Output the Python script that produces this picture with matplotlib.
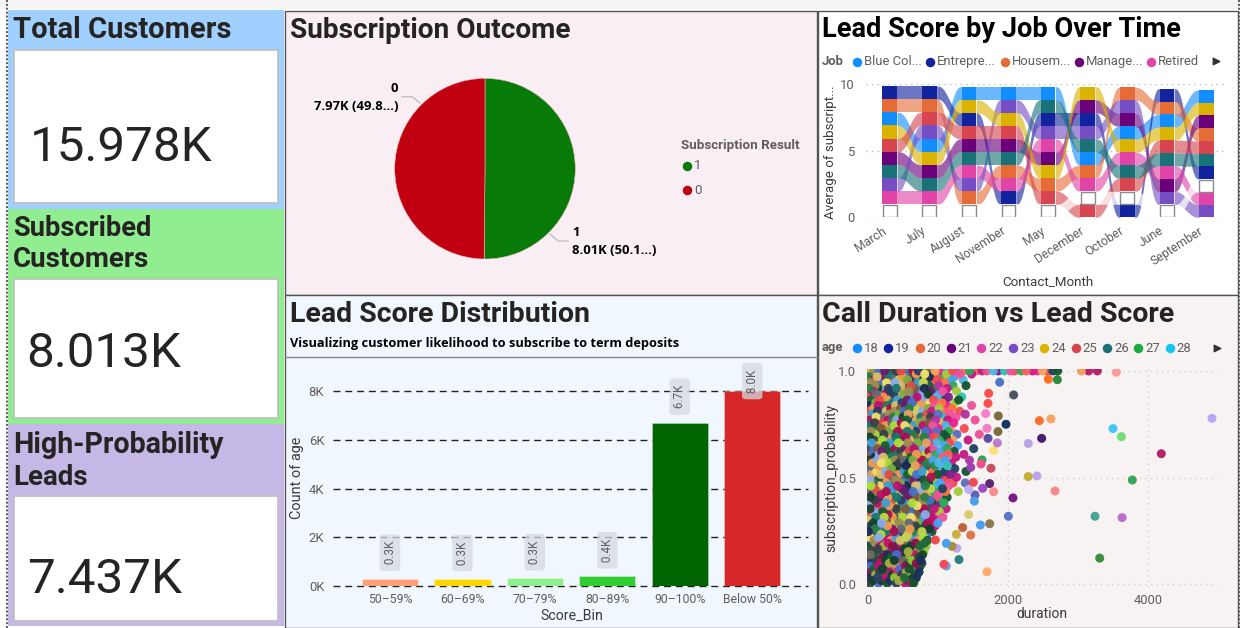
import numpy as np
import matplotlib
matplotlib.use("Agg")
import matplotlib.pyplot as plt
from matplotlib.patches import Rectangle
from matplotlib.transforms import ScaledTranslation

plt.rcParams['font.family'] = ['Roboto', 'DejaVu Sans']

W, H = 1240, 628
TITLE = '#252423'
GREY = '#605E5C'
AXT = '#3A3A3A'

# ---------------- data ----------------
kpi_titles = ['Total Customers', 'Subscribed\nCustomers', 'High-Probability\nLeads']
kpi_values = ['15.978K', '8.013K', '7.437K']

pie_values = [8013, 7965]
pie_colors = ['#087A08', '#C00010']

bins = ['50–59%', '60–69%', '70–79%', '80–89%', '90–100%', 'Below 50%']
bin_counts = [300, 290, 320, 400, 6700, 8000]
bin_labels = ['0.3K', '0.3K', '0.3K', '0.4K', '6.7K', '8.0K']
bin_colors = ['#FFA07A', '#FFD700', '#90EE90', '#32CD32', '#006400', '#D62828']

months = ['March', 'July', 'August', 'November', 'May', 'December', 'October', 'June', 'September']
month_avg = [0.985, 0.985, 0.98, 0.98, 0.98, 0.98, 0.975, 0.965, 0.955]
job_colors = {'blue': '#118DFF', 'entre': '#12239E', 'house': '#E66C37', 'manage': '#6B007B',
              'retired': '#E044A7', 'self': '#744EC2', 'serv': '#D9B300', 'student': '#D64550',
              'tech': '#197278', 'unemp': '#FFFFFF'}
# stack order in each month, top to bottom
month_order = [
    ['entre', 'house', 'blue', 'serv', 'student', 'manage', 'tech', 'self', 'retired', 'unemp'],
    ['entre', 'house', 'student', 'self', 'blue', 'serv', 'manage', 'tech', 'retired', 'unemp'],
    ['blue', 'serv', 'entre', 'student', 'manage', 'tech', 'retired', 'self', 'house', 'unemp'],
    ['blue', 'self', 'serv', 'student', 'manage', 'tech', 'house', 'retired', 'entre', 'unemp'],
    ['blue', 'tech', 'entre', 'self', 'retired', 'manage', 'serv', 'house', 'student', 'unemp'],
    ['serv', 'manage', 'entre', 'self', 'tech', 'blue', 'house', 'retired', 'unemp', 'student'],
    ['house', 'self', 'manage', 'blue', 'serv', 'retired', 'tech', 'student', 'unemp', 'entre'],
    ['entre', 'house', 'blue', 'serv', 'student', 'tech', 'retired', 'manage', 'self', 'unemp'],
    ['blue', 'serv', 'manage', 'house', 'student', 'tech', 'entre', 'unemp', 'retired', 'self'],
]
job_legend = [('Blue Col...', 'blue'), ('Entrepre...', 'entre'), ('Housem...', 'house'),
              ('Manage...', 'manage'), ('Retired', 'retired')]

age_legend = ['18', '19', '20', '21', '22', '23', '24', '25', '26', '27', '28']
age_colors = ['#118DFF', '#12239E', '#E66C37', '#6B007B', '#E044A7', '#744EC2', '#D9B300',
              '#D64550', '#197278', '#1AAB40', '#15C6F4']

# dense part of the scatter, estimated row by row: probability -> durations
dense_rows = {
    1.000: [20,90,160,240,310,395,470,560,640,720,810,890,960,1050,1130,1210,1290,1370,1450,1540,1630,1700,1790,1860,1950,2040,2090,2190,2260,2350,2420,2490,2560,2640,2710],
    .985: [60,170,280,430,520,690,810,940,1120,1310,1480],
    .972: [10,130,250,350,495,590,760,880,1040,1230],
    .958: [85,205,310,440,565,650,830,990,1180,1360],
    .945: [35,150,265,385,530,715,790,925,1090],
    .931: [100,225,340,470,610,745,870,1010,1215,1400],
    .918: [15,140,290,405,545,660,805,955,1130],
    .905: [70,195,320,490,580,730,900,1070,1265],
    .891: [5,120,245,370,510,640,775,860,1025],
    .878: [90,215,335,455,600,700,845,980,1150,1340],
    .864: [45,160,300,420,560,680,820,935,1100,1295],
    .851: [110,235,350,485,625,760,885,1055,1240],
    .838: [25,145,275,395,535,655,790,950,1125,1480],
    .824: [80,200,325,465,590,725,865,1015,1200],
    .811: [10,135,260,380,515,670,780,910,1085,1310],
    .797: [60,185,305,440,575,705,840,1000,1170,1390],
    .784: [115,240,360,500,620,755,895,1060,1260],
    .770: [30,155,285,410,550,690,815,965,1140,1530],
    .757: [95,210,345,475,600,735,875,1035,1225],
    .744: [5,125,255,375,525,645,785,925,1110],
    .730: [70,190,315,450,585,715,850,1005,1185,1375],
    .717: [40,165,295,425,560,680,820,975,1150],
    .703: [105,230,355,490,630,750,905,1080,1270,1590],
    .690: [20,145,270,400,540,665,800,950,1120],
    .676: [85,205,330,460,595,725,860,1020,1210,1430],
    .663: [50,175,310,435,570,700,835,985,1165],
    .650: [120,245,365,505,615,770,915,1095,1280],
    .636: [15,135,280,390,530,655,795,945,1130,1510],
    .623: [75,195,320,470,590,730,870,1040,1230],
    .609: [35,160,290,415,555,690,825,970,1145,1370],
    .596: [100,220,340,480,610,745,890,1075,1255],
    .582: [10,130,260,385,520,640,780,930,1105,1450],
    .569: [65,190,305,445,580,710,855,1010,1190],
    .556: [30,150,275,405,545,675,810,960,1135],
    .542: [90,215,335,465,600,735,880,1055,1240],
    .529: [5,125,250,375,515,635,775,925,1100,1400],
    .515: [55,180,300,430,565,695,840,995,1175],
    .502: [110,235,355,495,620,760,900,1080,1265],
    .488: [25,145,270,395,535,660,800,950,1120],
    .475: [80,200,325,460,590,725,865,1030,1215,1390],
    .462: [40,165,285,420,550,680,820,975,1150],
    .448: [95,225,345,485,610,750,895,1065],
    .435: [15,135,260,380,525,645,790,940,1110,1290],
    .421: [70,185,315,450,580,715,850,1005],
    .408: [35,155,280,410,545,670,810,960,1130],
    .394: [100,220,340,475,605,740,885,1050],
    .381: [5,125,255,370,510,630,770,915,1085],
    .368: [60,180,300,435,570,700,835,990],
    .354: [30,150,270,400,535,660,800,945,1115],
    .341: [90,210,330,465,595,725,865,1020],
    .327: [45,165,285,420,555,685,820,970],
    .314: [110,230,350,490,615,755,900,1070],
    .301: [15,135,265,385,525,640,785,930],
    .287: [75,195,315,445,585,710,850,1000],
    .274: [35,160,280,410,550,675,815,960],
    .260: [100,220,345,475,600,740,880],
    .247: [5,130,250,375,515,635,770,915],
    .233: [65,185,305,440,570,705,840],
    .220: [25,150,270,400,540,660,795],
    .206: [85,210,330,460,590,720,850],
    .193: [45,165,290,420,555,680,805],
    .179: [105,225,350,480,610,740,830],
    .166: [15,140,265,385,520,645,775],
    .153: [70,190,315,445,575,700,800],
    .139: [35,160,280,410,545,670,780],
    .126: [95,215,340,470,600,725],
    .112: [5,125,250,375,510,630,755],
    .099: [60,180,305,435,565,690,770],
    .085: [25,150,270,400,535,655,745],
    .072: [85,205,325,455,585,710],
    .058: [40,165,285,415,550,670,730],
    .045: [110,230,350,480,605,700],
    .031: [15,135,260,380,520,640,690],
    .018: [70,190,310,440,570,660],
    .005: [30,150,275,405,530,620,650],
}
# age group of each dense point, read as a repeating list of colour slots
age_slots = [3,17,8,22,0,13,19,5,11,2,23,7,15,9,20,1,14,6,21,12,4,18,10,16,
             7,0,19,3,12,22,9,15,1,17,5,23,11,20,2,8,14,21,6,13,18,4,16,10,
             22,5,14,0,9,18,3,20,11,7,16,1,23,13,6,19,2,10,17,8,21,15,4,12,
             1,12,6,17,23,3,10,19,14,0,8,21,5,16,9,2,20,13,7,18,11,22,4,15,0]
dense_bright = ['#F0509A', '#F04C50', '#4AA0F0', '#2FA85A', '#C2187F', '#14532D', '#FF7043', '#2EC4B6', '#B0339E',
                '#E91E8C', '#4DB6E5', '#1E8E50', '#FF5A5F', '#A8C93A', '#5C6BC0', '#F8A35C', '#7B1E8A', '#1D4060']
dense_mixed = ['#1D5C34', '#C2D64A', '#2B3A67', '#E8A25C', '#C0106E', '#5E6A78', '#A8E03A', '#7A5C3C',
               '#4672C8', '#173F2A', '#D8C06A', '#A80F4F', '#3E9ED0', '#384048', '#F09A50', '#8CAAE8',
               '#2A7D46', '#9E8E50', '#1B2A55', '#E04C44', '#18776E', '#F2E06E', '#6B1C6E', '#78B040']
dense_dark = ['#14532D', '#1C2F5C', '#8B0F4B', '#3A4048', '#1E6B38', '#C0106E', '#0F4030', '#A8B040',
              '#2F3F66', '#6E6A60', '#176034', '#D02860', '#10442A', '#C89060', '#4A6AD0', '#8AC838']

# scattered outliers: duration, probability, colour
sparse_dur = [4914,4190,3776,3620,3500,3310,3630,3243,2671,2414,2290,2290,2481,2614,2448,1971,2081,1881,
              2705,2576,3548,3276,3152,3048,2071,2005,1738,1605,1467,1352,1438,1262,1300,1119,1086,1700,
              1267,1200,1119,962,1738,1795,1638,1529,1519,1438,1505,1757,1629,1467,1614,1795,1848,1714,
              1857,1700,1862,1681,1724,1714]
sparse_prob = [.778,.612,.489,.692,.73,.123,.3125,.319,.4375,.508,.505,.66,.684,.775,.767,.75,.8875,.947,
               .959,.961,.994,1.0,1.0,1.0,.405,.319,.284,.278,.231,.266,.327,.234,.116,.086,.094,.059,
               .169,.178,.192,.208,.472,.434,.45,.419,.39,.444,.478,.544,.583,.548,.564,.627,.6625,.684,
               .716,.731,.789,.80,.895,.848]
sparse_col = ['#B9A6F5','#B8226B','#3AA657','#74DB7E','#45C6F5','#3B8F3E','#BC6FCB','#45A696','#F48C8C',
              '#BDA6EE','#C7B038','#B8A5E8','#4B1D6E','#F7A468','#FF6F2D','#163561','#4D5565','#4A78C4',
              '#2E8B3E','#FF7020','#FF9A9A','#B8226B','#B8226B','#F0A060','#7B1E8A','#5A78C8','#8C7A4F',
              '#4A9CF5','#E0764E','#C0633C','#D9CC70','#C9B040','#2E7F80','#6AA5EE','#F44C5A','#FFAC70',
              '#C0A8F0','#A98F3A','#4AA0F0','#F04C50','#5C2A70','#F98F90','#9B4FC0','#6262B0','#4D9FE8',
              '#C0B0F0','#F04C50','#C9505F','#3A9F50','#A040B0','#F04C90','#FFE270','#BC7FD0','#5A4FA0',
              '#7C7040','#F57FC0','#7D6A40','#FA7FD0','#FF5050','#FF5050']

# ---------------- helpers ----------------
fig = plt.figure(figsize=(W / 100, H / 100), dpi=100, facecolor='white')
bg = fig.add_axes([0, 0, 1, 1])
bg.set_xlim(0, W)
bg.set_ylim(H, 0)
bg.axis('off')


def axes_px(l, t, r, b):
    a = fig.add_axes([l / W, 1 - b / H, (r - l) / W, (b - t) / H])
    a.patch.set_alpha(0)
    return a


def pt(px):
    return px * 0.72


def box(l, t, r, b, fc, ec='none', lw=0, z=1):
    bg.add_patch(Rectangle((l, t), r - l, b - t, fc=fc, ec=ec, lw=lw, zorder=z))


def txt(x, y, s, size, color=TITLE, weight='normal', ha='left', va='center', rot=0, **kw):
    bg.text(x, y, s, fontsize=size, color=color, fontweight=weight, ha=ha, va=va, rotation=rot, zorder=8, **kw)


def dot(x, y, c, d=9.5):
    bg.scatter([x], [y], s=pt(d) ** 2, c=c, linewidths=0, zorder=8)


# ---------------- page ----------------
box(0, 0, W, 9, '#F4F4F4')
bg.plot([7, 7], [0, H], color='#555555', lw=1.4, ls=(0, (1, 1)), zorder=9)
bg.plot([1238.5, 1238.5], [0, H], color='#555555', lw=1.4, ls=(0, (1, 1)), zorder=9)

# KPI cards
kpi_boxes = [(10, 209, '#A0D0FF', 50, 203, 161, 30), (209, 424, '#90EE90', 279, 418, 367, 26.5),
             (424, 626, '#C5B8E6', 496, 621, 593, 27)]
title_base = [[38], [236, 267], [453, 485]]
title_size = [[21], [19.6, 20], [20.6, 20]]
for (t, b, col, it, ib, base, vx), ttl, val, tb, ts in zip(kpi_boxes, kpi_titles, kpi_values, title_base, title_size):
    box(8, t, 284, b, col)
    box(14, it, 277.5, ib, 'white', ec='#BEBEBE', lw=1.2, z=2)
    for line, y, sz in zip(ttl.split('\n'), tb, ts):
        txt(13, y, line, sz, weight='bold', va='baseline')
    txt(vx, base, val, 35.6, va='baseline', color='#252423')

# panels
panel_edge = '#555555'
box(285, 11, 817, 295, '#F8EEF4', ec=panel_edge, lw=1)
box(285, 295, 817, 627.5, '#F1F7FF', ec=panel_edge, lw=1)
box(818, 11, 1238, 295, 'white', ec=panel_edge, lw=1)
box(818, 295, 1238, 627.5, '#F7F3F3', ec=panel_edge, lw=1)

# ---------------- pie ----------------
txt(290, 37.5, 'Subscription Outcome', 20.2, weight='bold', va='baseline')
R = 90.3
pa = axes_px(485 - R, 168.7 - R, 485 + R, 168.7 + R)
pa.pie(pie_values, colors=pie_colors, startangle=90, counterclock=False, radius=1,
       wedgeprops=dict(edgecolor='#E8B8B8', linewidth=0.4))
pa.set_xlim(-1, 1)
pa.set_ylim(-1, 1)
bg.plot([402, 412, 420], [96.7, 96.7, 103], color='#BDBDBD', lw=0.9, zorder=5)
bg.plot([550, 558, 568], [234, 241, 241], color='#BDBDBD', lw=0.9, zorder=5)
lbl = ['Open Sans', 'DejaVu Sans']
txt(398, 89, '0', 9.4, color='black', weight='bold', ha='right', family=lbl)
txt(398, 106.7, '7.97K (49.8...)', 9.4, color='black', weight='bold', ha='right', family=lbl)
txt(572, 232.7, '1', 9.4, color='black', weight='bold', family=lbl)
txt(572, 250, '8.01K (50.1...)', 9.4, color='black', weight='bold', family=lbl)
txt(681, 145, 'Subscription Result', 9.6, color=GREY, weight='bold')
for y, c, s in [(165.7, pie_colors[0], '1'), (190, pie_colors[1], '0')]:
    dot(687, y, c)
    txt(694, y, s, 9.5, color=GREY)

# ---------------- bars ----------------
txt(290, 322.5, 'Lead Score Distribution', 20.5, weight='bold', va='baseline')
txt(290, 343.3, 'Visualizing customer likelihood to subscribe to term deposits', 9.2, color='black',
    weight='bold', family=lbl)
bg.plot([285, 817], [357.3, 357.3], color='#8A8A8A', lw=1, zorder=3)
ba = axes_px(332.5, 391, 808, 586)
ba.set_xlim(-0.794, 5.77)
ba.set_ylim(0, 8000)
ba.bar(range(len(bins)), bin_counts, width=0.775, color=bin_colors, zorder=3, edgecolor='#FFFFFF55', linewidth=0.6)
ba.set_yticks([0, 2000, 4000, 6000, 8000], ['0K', '2K', '4K', '6K', '8K'])
ba.set_xticks(range(len(bins)), bins)
ba.grid(axis='y', color='#222222', ls=(0, (5, 3.5)), lw=1, zorder=1)
ba.grid(axis='x', visible=False)
for g in ba.get_ygridlines():
    g.set_clip_on(False)
ba.tick_params(length=0, labelcolor=GREY, labelsize=9.4, pad=6)
ba.tick_params(axis='x', labelsize=8.8, pad=5)
for s in ba.spines.values():
    s.set_visible(False)
label_offset = [18.7, 18.7, 18.7, 18.7, 18.7, 7.2]
for i, (v, l, o) in enumerate(zip(bin_counts, bin_labels, label_offset)):
    ba.annotate(' ' + l + ' ', (i, v), xytext=(0, o), textcoords='offset points', rotation=90,
                ha='center', va='center', fontsize=8.4, color=GREY, zorder=6, annotation_clip=False,
                bbox=dict(boxstyle='round,pad=0.32', fc='#D5DAE2', ec='none', alpha=0.75))
txt(571.7, 615.7, 'Score_Bin', 10.2, color=AXT, ha='center')
txt(297.5, 477.7, 'Count of age', 10.4, color=AXT, ha='center', rot=90)

# ---------------- ribbon ----------------
txt(822, 37, 'Lead Score by Job Over Time', 19.6, color='black', weight='bold', va='baseline')
txt(822, 61.5, 'Job', 9.4, color=GREY, weight='bold')
for (name, key), x in zip(job_legend, [857, 929.7, 1004.7, 1078.7, 1151]):
    dot(x, 61.5, job_colors[key])
    txt(x + 7, 61.5, name, 9.4, color=GREY)
bg.scatter([1216], [61], marker='>', s=22, c='#333333', zorder=8)

ra = axes_px(866, 84, 1227, 217.3)
ra.set_xlim(-0.6, 8.52)
ra.set_ylim(0, 10)
half = 0.185
positions = []
for order, h in zip(month_order, month_avg):
    tops = {}
    y = h * len(order)
    for key in order:
        tops[key] = (y - h, y)
        y -= h
    positions.append(tops)
jobs_drawn = [k for k in job_colors if k != 'unemp'] + ['unemp']
u = np.linspace(0, 1, 60)
ease = u ** 3 * (u * (u * 6 - 15) + 10)
for key in jobs_drawn:
    for i in range(len(months) - 1):
        lo0, hi0 = positions[i][key]
        lo1, hi1 = positions[i + 1][key]
        xs = i + half + u * (1 - 2 * half)
        ra.fill_between(xs, lo0 + (lo1 - lo0) * ease, hi0 + (hi1 - hi0) * ease, color=job_colors[key],
                        alpha=0.72 if key == 'unemp' else 0.62, lw=0, zorder=3)
for i, tops in enumerate(positions):
    for key, (lo, hi) in tops.items():
        if key == 'unemp':
            ra.add_patch(Rectangle((i - half + 0.01, lo + 0.02), 2 * half - 0.02, hi - lo - 0.05, fc='white',
                                   ec='#8A8A8A', lw=1, zorder=5))
        else:
            ra.add_patch(Rectangle((i - half, lo), 2 * half, hi - lo, fc=job_colors[key], ec='none', zorder=4))
ra.set_yticks([0, 5, 10])
ra.set_xticks(range(len(months)))
ra.set_xticklabels(months, rotation=33, ha='right', rotation_mode='anchor')
ra.grid(axis='y', color='#BDBDBD', ls=(0, (1, 3)), lw=1, zorder=1)
ra.tick_params(length=0, labelcolor=GREY, labelsize=9.4, pad=8)
ra.tick_params(axis='x', labelsize=8.8, pad=5)
for t in ra.get_xticklabels():
    t.set_transform(t.get_transform() + ScaledTranslation(-0.08, 0, fig.dpi_scale_trans))
for s in ra.spines.values():
    s.set_visible(False)
txt(1048, 281.5, 'Contact_Month', 9.6, color=AXT, ha='center')
txt(830.5, 152, 'Average of subscript...', 9.6, color=AXT, ha='center', rot=90)

# ---------------- scatter ----------------
txt(822, 322.5, 'Call Duration vs Lead Score', 20.5, weight='bold', va='baseline')
txt(822, 348, 'age', 9.4, color=GREY, weight='bold')
age_x = [857, 888, 919.7, 950.7, 981.3, 1013, 1044, 1075.7, 1107, 1138, 1169.7]
for a, c, x in zip(age_legend, age_colors, age_x):
    dot(x, 348, c)
    txt(x + 7, 348, a, 9.4, color=GREY)
bg.scatter([1217], [347.5], marker='>', s=22, c='#333333', zorder=8)

sa = axes_px(867.3, 369, 1218, 586.7)
sa.set_xlim(-10, 5000)
sa.set_ylim(-0.011, 1.009)
dur, prob, col = [], [], []
n = 0
for p, row in dense_rows.items():
    for d in row:
        if d > 900:
            pal = dense_bright
        elif p < 0.2:
            pal = dense_dark
        else:
            pal = dense_mixed
        dur.append(d)
        prob.append(p)
        col.append(pal[age_slots[n % len(age_slots)] % len(pal)])
        n += 1
draw = sorted(range(n), key=lambda k: (k * 211) % n)
sa.scatter([dur[k] for k in draw], [prob[k] for k in draw], s=pt(9) ** 2, c=[col[k] for k in draw],
           alpha=0.95, linewidths=0, zorder=3)
sa.scatter(sparse_dur, sparse_prob, s=pt(9) ** 2, c=sparse_col, linewidths=0, zorder=4)
sa.set_xticks([0, 2000, 4000])
sa.set_yticks([0, 0.5, 1.0], ['0.0', '0.5', '1.0'])
sa.grid(color='#CFCFCF', ls=(0, (1, 3)), lw=1, zorder=1)
sa.tick_params(length=0, labelcolor=GREY, labelsize=9.4, pad=8)
sa.tick_params(axis='x', pad=5)
for s in sa.spines.values():
    s.set_visible(False)
txt(1042, 614.5, 'duration', 10, color=AXT, ha='center')
txt(831, 478, 'subscription_probability', 10, color=AXT, ha='center', rot=90)

fig.savefig('out.png', dpi=100)
